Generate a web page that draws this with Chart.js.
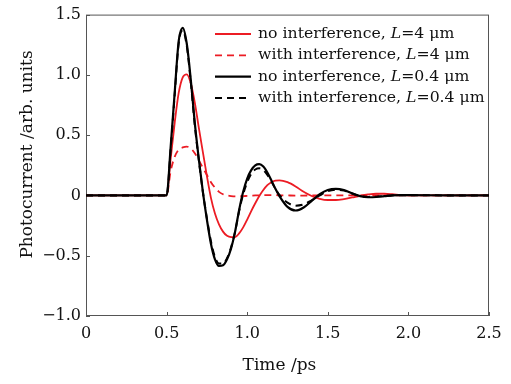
<!DOCTYPE html>
<html>
<head>
<meta charset="utf-8">
<script src="https://cdn.jsdelivr.net/npm/chart.js@4.4.0/dist/chart.umd.min.js"></script>
<style>
    html, body { margin: 0; padding: 0; background: #fff; }
    canvas { display: block; }
</style>
</head>
<body>
<canvas id="myChart" width="511" height="384"></canvas>
<script>
// time axis (ps)
const times = [0, 0.25, 0.5,
    0.525, 0.55, 0.575, 0.6, 0.625, 0.65, 0.675, 0.7, 0.725, 0.75, 0.775, 0.8, 0.825, 0.85,
    0.875, 0.9, 0.925, 0.95, 0.975, 1.0, 1.025, 1.05, 1.075, 1.1, 1.125, 1.15, 1.175, 1.2,
    1.25, 1.3, 1.35, 1.4, 1.45, 1.5, 1.55, 1.6, 1.65, 1.7, 1.75, 1.8, 1.85, 1.9, 1.95, 2.0,
    2.25, 2.5];

// L = 4 um, no interference
const red_no = [0, 0, 0,
    0.3, 0.6, 0.85, 0.98, 1.005, 0.93, 0.77, 0.56, 0.36, 0.16, -0.02, -0.15, -0.24, -0.3,
    -0.335, -0.345, -0.345, -0.315, -0.265, -0.2, -0.13, -0.065, -0.005, 0.045, 0.085, 0.11, 0.122, 0.125,
    0.11, 0.075, 0.03, -0.005, -0.028, -0.038, -0.038, -0.03, -0.017, -0.003, 0.008, 0.014, 0.014, 0.01, 0.004, 0,
    0, 0];

// L = 4 um, with interference
const red_with = [0, 0, 0,
    0.2, 0.32, 0.38, 0.398, 0.405, 0.39, 0.35, 0.29, 0.23, 0.17, 0.11, 0.065, 0.03, 0.01,
    0, -0.005, -0.007, -0.007, -0.006, -0.004, -0.002, 0, 0.001, 0.002, 0.002, 0.002, 0.002, 0.001,
    0, -0.001, -0.001, 0, 0, 0, 0, 0, 0, 0, 0, 0, 0, 0, 0, 0,
    0, 0];

// L = 0.4 um, no interference
const black_no = [0, 0, 0,
    0.4, 0.85, 1.28, 1.39, 1.26, 0.96, 0.6, 0.3, 0.03, -0.2, -0.4, -0.53, -0.585, -0.58,
    -0.53, -0.44, -0.3, -0.12, 0.03, 0.14, 0.21, 0.25, 0.26, 0.24, 0.19, 0.125, 0.055, -0.005,
    -0.095, -0.125, -0.1, -0.045, 0.01, 0.045, 0.055, 0.045, 0.018, -0.006, -0.015, -0.013, -0.006, 0, 0.003, 0.003,
    0, 0];

// L = 0.4 um, with interference
const black_with = [0, 0, 0,
    0.38, 0.83, 1.26, 1.37, 1.24, 0.94, 0.58, 0.29, 0.03, -0.19, -0.38, -0.51, -0.565, -0.565,
    -0.52, -0.43, -0.3, -0.13, 0.01, 0.11, 0.18, 0.215, 0.225, 0.21, 0.17, 0.115, 0.055, 0.005,
    -0.06, -0.085, -0.075, -0.04, 0, 0.035, 0.048, 0.04, 0.016, -0.004, -0.012, -0.01, -0.005, 0, 0.002, 0.002,
    0, 0];

const seriesNames = ['no interference, ', 'with interference, ', 'no interference, ', 'with interference, '];
const seriesL = ['4 \u03bcm', '4 \u03bcm', '0.4 \u03bcm', '0.4 \u03bcm'];

const xTicks = [0, 0.5, 1.0, 1.5, 2.0, 2.5];
const yTicks = [-1.0, -0.5, 0, 0.5, 1.0, 1.5];

const RED = '#ec1c24';
const BLACK = '#000000';
const FONT = "'DejaVu Serif', serif";

function pts(arr) {
    return times.map((t, i) => ({x: t, y: arr[i]}));
}

function fmt(v) {
    if (Math.abs(v) < 1e-9) return '0';
    return (v < 0 ? '\u2212' : '') + Math.abs(v).toFixed(1);
}

// box round the plot + inward ticks
const framePlugin = {
    id: 'frame',
    beforeDatasetsDraw(chart) {
        const {ctx, chartArea: a, scales} = chart;
        ctx.save();
        ctx.strokeStyle = '#555';
        ctx.lineWidth = 1;
        ctx.strokeRect(a.left + 0.5, a.top + 0.5, a.right - a.left - 1, a.bottom - a.top - 1);
        ctx.beginPath();
        xTicks.forEach(v => {
            const px = Math.round(scales.x.getPixelForValue(v)) + 0.5;
            ctx.moveTo(px, a.bottom);
            ctx.lineTo(px, a.bottom - 4);
        });
        yTicks.forEach(v => {
            const py = Math.round(scales.y.getPixelForValue(v)) + 0.5;
            ctx.moveTo(a.left, py);
            ctx.lineTo(a.left + 4, py);
        });
        ctx.stroke();
        ctx.restore();
    }
};

// legend in the upper right of the plot
const legendPlugin = {
    id: 'innerLegend',
    afterDatasetsDraw(chart) {
        const {ctx} = chart;
        ctx.save();
        [0, 1, 2, 3].forEach((i, row) => {
            const ds = chart.data.datasets[i];
            const y = 34 + row * 21.3;
            ctx.strokeStyle = ds.borderColor;
            ctx.lineWidth = ds.borderWidth;
            ctx.setLineDash(ds.borderDash || []);
            ctx.beginPath();
            ctx.moveTo(215, y);
            ctx.lineTo(251, y);
            ctx.stroke();
            ctx.setLineDash([]);

            ctx.fillStyle = '#111';
            ctx.textBaseline = 'middle';
            let x = 258;
            const parts = [
                [seriesNames[i], '15.7px ' + FONT],
                ['L', 'italic 15.7px ' + FONT],
                ['=' + seriesL[i], '15.7px ' + FONT],
            ];
            parts.forEach(p => {
                ctx.font = p[1];
                ctx.fillText(p[0], x, y);
                x += ctx.measureText(p[0]).width;
            });
        });
        ctx.restore();
    }
};

document.addEventListener('DOMContentLoaded', () => {
    const ctx = document.getElementById('myChart').getContext('2d');

    const data = {
        datasets: [{
            label: 'no interference, L=4 \u03bcm',
            data: pts(red_no),
            borderColor: RED,
            borderWidth: 1.8,
            order: 2,
        }, {
            label: 'with interference, L=4 \u03bcm',
            data: pts(red_with),
            borderColor: RED,
            borderWidth: 1.8,
            borderDash: [7, 5],
            order: 3,
        }, {
            label: 'no interference, L=0.4 \u03bcm',
            data: pts(black_no),
            borderColor: BLACK,
            borderWidth: 2.2,
            order: 1,
        }, {
            label: 'with interference, L=0.4 \u03bcm',
            data: pts(black_with),
            borderColor: BLACK,
            borderWidth: 2,
            borderDash: [7, 5],
            order: 0,
        }]
    };

    const options = {
        responsive: false,
        animation: false,
        layout: {
            padding: {left: 0, right: 22, top: 13, bottom: 0}
        },
        elements: {
            point: {radius: 0},
            line: {fill: false, cubicInterpolationMode: 'monotone'}
        },
        plugins: {
            legend: {display: false},
            tooltip: {enabled: false}
        },
        scales: {
            x: {
                type: 'linear',
                min: 0,
                max: 2.5,
                afterFit: (scale) => { scale.height = 68; },
                afterBuildTicks: (scale) => { scale.ticks = xTicks.map(v => ({value: v})); },
                grid: {display: false, drawTicks: false},
                border: {display: false},
                ticks: {
                    color: '#111',
                    padding: 8,
                    maxRotation: 0,
                    font: {family: FONT, size: 16},
                    callback: (v) => fmt(v)
                },
                title: {
                    display: true,
                    // trailing spaces: the original title sits a bit left of centre
                    text: 'Time /ps   ',
                    color: '#111',
                    font: {family: FONT, size: 17},
                    padding: {top: 0, bottom: 8}
                }
            },
            y: {
                type: 'linear',
                min: -1.0,
                max: 1.5,
                afterFit: (scale) => { scale.width = 86; },
                afterBuildTicks: (scale) => { scale.ticks = yTicks.map(v => ({value: v})); },
                grid: {display: false, drawTicks: false},
                border: {display: false},
                ticks: {
                    color: '#111',
                    padding: 5,
                    font: {family: FONT, size: 16},
                    callback: (v) => fmt(v)
                },
                title: {
                    display: true,
                    // leading spaces lift the title a little, as in the original
                    text: '    Photocurrent /arb. units',
                    color: '#111',
                    font: {family: FONT, size: 17},
                    padding: {top: 17, bottom: 0}
                }
            }
        }
    };

    new Chart(ctx, {
        type: 'line',
        data: data,
        options: options,
        plugins: [framePlugin, legendPlugin]
    });
});
</script>
</body>
</html>
